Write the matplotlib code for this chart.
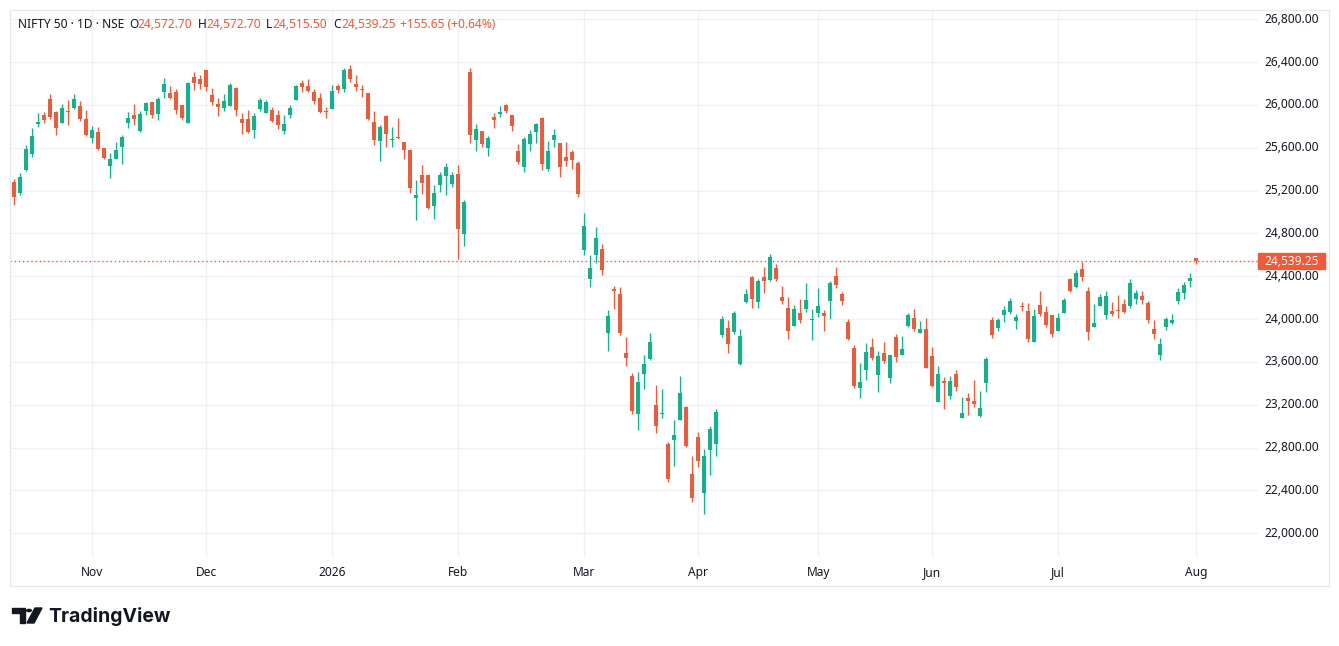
import numpy as np
import matplotlib
matplotlib.use("Agg")
import matplotlib.pyplot as plt
from matplotlib.patches import Rectangle, Circle, Polygon
from matplotlib.transforms import blended_transform_factory

plt.rcParams['font.family'] = ['Noto Sans', 'DejaVu Sans']

# Daily OHLC for NIFTY 50 (one entry per trading day)
opens = [25278, 25178, 25391, 25541, 25825, 25903, 26056, 25934, 25834, 25944,
         25975, 25991, 25869, 25694, 25747, 25597, 25431, 25497, 25609, 25834,
         25906, 25759, 25947, 26028, 25916, 26122, 26112, 26122, 26000, 25834,
         26262, 26244, 26328, 26094, 26009, 25972, 25991, 26159, 25869, 25869,
         25766, 25963, 25925, 25953, 25906, 25756, 25906, 26047, 26206, 26178,
         26122, 26066, 25944, 25963, 26178, 26150, 26337, 26197, 26150, 26112,
         25841, 25662, 25897, 25669, 25700, 25653, 25578, 25128, 25344, 25344,
         25053, 25250, 25334, 25262, 25356, 24794, 26309, 25675, 25756, 25600,
         25888, 25916, 26000, 25906, 25569, 25419, 25634, 25747, 25878, 25400,
         25672, 25644, 25512, 25559, 25456, 24650, 24378, 24603, 24659, 23866,
         24284, 24238, 23684, 23469, 23116, 23491, 23628, 23197, 23116, 22831,
         22869, 23059, 23178, 22550, 22897, 22375, 22775, 22831, 23853, 23919,
         23878, 23578, 24159, 24394, 24159, 24394, 24366, 24478, 24206, 24103,
         23934, 24056, 24094, 23991, 24056, 24056, 24169, 24403, 24234, 23972,
         23728, 23353, 23522, 23738, 23478, 23684, 23450, 23834, 23666, 23938,
         24013, 23872, 23909, 23656, 23225, 23422, 23281, 23488, 23075, 23263,
         23234, 23094, 23403, 23994, 23919, 24041, 24069, 23984, 24119, 24078,
         23784, 24131, 24066, 24038, 23888, 24056, 24375, 24300, 24469, 24263,
         23925, 24122, 24038, 24075, 24084, 24141, 24122, 24188, 24216, 24150,
         23906, 23663, 23925, 23963, 24169, 24244, 24356, 24572.70]
highs = [25306, 25362, 25625, 25784, 25925, 25934, 26106, 25944, 26009, 26047,
         26106, 26037, 25953, 25803, 25794, 25597, 25550, 25653, 25719, 25934,
         26009, 25944, 26031, 26028, 26078, 26253, 26178, 26150, 26000, 26216,
         26309, 26281, 26328, 26159, 26066, 26103, 26206, 26169, 25925, 25953,
         25925, 26066, 26047, 25981, 25953, 25906, 26000, 26187, 26234, 26244,
         26150, 26112, 25981, 26187, 26197, 26347, 26375, 26281, 26187, 26112,
         25944, 25812, 25906, 25794, 25878, 25653, 25587, 25297, 25437, 25353,
         25250, 25372, 25456, 25372, 25437, 25109, 26347, 25822, 25756, 25709,
         25925, 25991, 26009, 25906, 25634, 25700, 25766, 25831, 25888, 25663,
         25775, 25644, 25653, 25578, 25475, 24987, 24603, 24856, 24697, 24088,
         24313, 24303, 23834, 23497, 23506, 23666, 23872, 23384, 23347, 22850,
         23056, 23469, 23188, 22719, 22944, 22784, 23000, 23159, 24031, 23994,
         24075, 23906, 24281, 24403, 24375, 24488, 24609, 24516, 24309, 24206,
         24131, 24188, 24338, 24094, 24291, 24084, 24356, 24488, 24253, 24000,
         23756, 23588, 23775, 23822, 23703, 23788, 23666, 23863, 23844, 24059,
         24097, 23984, 24013, 23741, 23563, 23459, 23469, 23525, 23272, 23309,
         23431, 23328, 23647, 24022, 24013, 24125, 24200, 24050, 24163, 24153,
         24094, 24263, 24122, 24038, 24056, 24197, 24384, 24459, 24534, 24300,
         24141, 24234, 24263, 24159, 24225, 24188, 24375, 24272, 24263, 24169,
         23991, 23822, 24019, 24047, 24291, 24347, 24431, 24572.70]
lows = [25066, 25159, 25381, 25512, 25797, 25834, 25872, 25719, 25834, 25816,
        25966, 25853, 25709, 25647, 25578, 25494, 25319, 25497, 25450, 25787,
        25816, 25750, 25909, 25881, 25860, 26069, 26056, 25919, 25862, 25834,
        26141, 26150, 26131, 26000, 25897, 25944, 25991, 25897, 25728, 25737,
        25691, 25944, 25925, 25841, 25775, 25728, 25878, 26047, 26122, 26122,
        26009, 25925, 25878, 25963, 26112, 26122, 26216, 26131, 26075, 25859,
        25625, 25475, 25606, 25606, 25684, 25494, 25175, 24922, 25166, 25025,
        24931, 25184, 25156, 25234, 24566, 24681, 25647, 25572, 25603, 25519,
        25784, 25891, 25928, 25756, 25447, 25372, 25569, 25644, 25391, 25381,
        25606, 25325, 25428, 25400, 25141, 24603, 24303, 24528, 24416, 23706,
        24091, 23847, 23566, 23116, 22966, 23350, 23619, 22938, 23078, 22475,
        22625, 23059, 22806, 22288, 22616, 22184, 22541, 22719, 23834, 23684,
        23859, 23569, 24150, 24103, 24103, 24244, 24356, 24356, 24141, 23813,
        23934, 23963, 24066, 23803, 24019, 23888, 24000, 24291, 24131, 23803,
        23353, 23259, 23428, 23616, 23319, 23591, 23403, 23600, 23666, 23928,
        23891, 23872, 23544, 23366, 23225, 23159, 23253, 23328, 23075, 23103,
        23178, 23084, 23319, 23825, 23891, 23975, 24050, 23909, 24078, 23788,
        23784, 24028, 23925, 23831, 23888, 24056, 24253, 24291, 24356, 23803,
        23925, 24122, 24000, 24028, 24009, 24056, 24103, 24141, 24141, 23963,
        23813, 23616, 23897, 23953, 24141, 24188, 24300, 24515.50]
closes = [25141, 25325, 25587, 25709, 25841, 25859, 25891, 25787, 25972, 25934,
          26056, 25872, 25719, 25766, 25587, 25503, 25494, 25578, 25700, 25878,
          25869, 25916, 26022, 25909, 26056, 26197, 26066, 25956, 25881, 26206,
          26206, 26197, 26169, 26028, 25981, 26037, 26187, 25953, 25831, 25747,
          25897, 26047, 26028, 25850, 25812, 25822, 25972, 26178, 26169, 26131,
          26037, 25934, 25934, 26131, 26141, 26328, 26244, 26169, 26141, 25869,
          25672, 25794, 25728, 25684, 25691, 25578, 25222, 25156, 25275, 25034,
          25175, 25344, 25419, 25347, 24841, 25091, 25722, 25775, 25637, 25691,
          25859, 25934, 25944, 25803, 25466, 25681, 25728, 25822, 25447, 25569,
          25719, 25419, 25475, 25484, 25166, 24866, 24481, 24762, 24456, 24031,
          24259, 23866, 23641, 23144, 23413, 23581, 23788, 23003, 23125, 22503,
          22916, 23309, 22816, 22325, 22672, 22719, 22972, 23131, 24003, 23769,
          24056, 23841, 24234, 24188, 24356, 24356, 24581, 24375, 24169, 23888,
          24094, 23991, 24178, 24000, 24122, 24028, 24338, 24319, 24169, 23813,
          23372, 23409, 23691, 23634, 23656, 23609, 23666, 23647, 23722, 24041,
          23909, 23909, 23544, 23375, 23488, 23406, 23422, 23366, 23122, 23234,
          23206, 23169, 23628, 23853, 23994, 24088, 24172, 24022, 24109, 23816,
          24028, 24047, 23944, 23859, 24009, 24178, 24263, 24431, 24394, 23878,
          23963, 24206, 24216, 24047, 24075, 24066, 24338, 24244, 24178, 23991,
          23859, 23766, 24000, 23991, 24253, 24319, 24384, 24539.25]

# first trading day of each month (bar index) and its axis label
month_idx = [13, 32, 53, 74, 95, 114, 134, 153, 174, 197]
month_labels = ['Nov', 'Dec', '2026', 'Feb', 'Mar', 'Apr', 'May', 'Jun', 'Jul', 'Aug']
price_ticks = list(range(22000, 26801, 400))

UP = '#0db58b'
DOWN = '#f05a38'
GRID = '#f0f1f4'
TXT = '#131722'

W, H = 1339, 646
fig = plt.figure(figsize=(W / 100, H / 100), dpi=100)
fig.patch.set_facecolor('white')

# plot area in pixels: x 10..1258, y 10..557
ax = fig.add_axes([10 / W, 1 - 557 / H, 1248 / W, 547 / H])
ax.set_xlim(-0.72, 207.3)
ax.set_ylim(21778, 26887)
ax.axis('off')

o = np.array(opens)
h = np.array(highs)
l = np.array(lows)
c = np.array(closes)
x = np.arange(len(o))
cols = np.where(c >= o, UP, DOWN)

for p in price_ticks:
    ax.axhline(p, color=GRID, lw=1, zorder=0)
for i in month_idx:
    ax.axvline(i, color=GRID, lw=1, zorder=0)

ax.vlines(x, l, h, colors=cols, lw=0.9, zorder=2)
body = np.maximum(np.abs(c - o), 9)
ax.bar(x, body, bottom=np.minimum(o, c), width=0.7, color=cols, lw=0, zorder=3)

# last price dotted line and label
ax.axhline(c[-1], color=DOWN, lw=1, ls=(0, (1, 2)), zorder=1)
ty = blended_transform_factory(ax.transAxes, ax.transData)
for p in price_ticks:
    ax.text(1.0489, p, f'{p:,.2f}', transform=ty, ha='right', va='center',
            fontsize=8.6, color=TXT, clip_on=False)
ax.add_patch(Rectangle((1.0003, c[-1] - 75), 0.0535, 150, transform=ty,
                       color=DOWN, clip_on=False, zorder=5))
ax.text(1.0489, c[-1], f'{c[-1]:,.2f}', transform=ty, ha='right', va='center',
        fontsize=8.6, color='white', fontweight='bold', clip_on=False, zorder=6)

tx = blended_transform_factory(ax.transData, ax.transAxes)
for i, lab in zip(month_idx, month_labels):
    ax.text(i, -0.0275, lab, transform=tx, ha='center', va='center', fontsize=8.6,
            color=TXT, fontweight='bold' if lab == '2026' else 'normal', clip_on=False)

# outer frame
fig.add_artist(Rectangle((10 / W, 1 - 586 / H), 1319 / W, 576 / H, transform=fig.transFigure,
                         fill=False, edgecolor='#e6e8ee', lw=1))

# header
hy = 1 - 24 / H
fig.text(18 / W, hy, 'NIFTY 50 · 1D · NSE', fontsize=8.6, color=TXT, va='center')
for lx, letter, vx, val in [(129, 'O', 137.5, '24,572.70'), (197.5, 'H', 206, '24,572.70'),
                            (265.5, 'L', 272.5, '24,515.50'), (333, 'C', 341, '24,539.25')]:
    fig.text(lx / W, hy, letter, fontsize=8.6, color=TXT, va='center')
    fig.text(vx / W, hy, val, fontsize=8.6, color=DOWN, va='center')
fig.text(400 / W, hy, '+155.65 (+0.64%)', fontsize=8.6, color=DOWN, va='center')

# TradingView logo
def px(xp, yp):
    return (xp / W, 1 - yp / H)

fig.add_artist(Polygon([px(12, 608), px(25, 608), px(25, 623), px(19.5, 623),
                        px(19.5, 612.5), px(12, 612.5)], closed=True,
                       transform=fig.transFigure, color=TXT))
fig.add_artist(Circle(px(29, 610.5), 2.3 / W, transform=fig.transFigure, color=TXT))
fig.add_artist(Polygon([px(35, 608), px(42, 608), px(34, 623), px(27, 623)], closed=True,
                       transform=fig.transFigure, color=TXT))
fig.text(48.5 / W, 1 - 616 / H, 'TradingView', fontsize=14, fontweight='bold', color=TXT,
         va='center', family=['Inter', 'DejaVu Sans'])

fig.savefig('out.png', dpi=100)
